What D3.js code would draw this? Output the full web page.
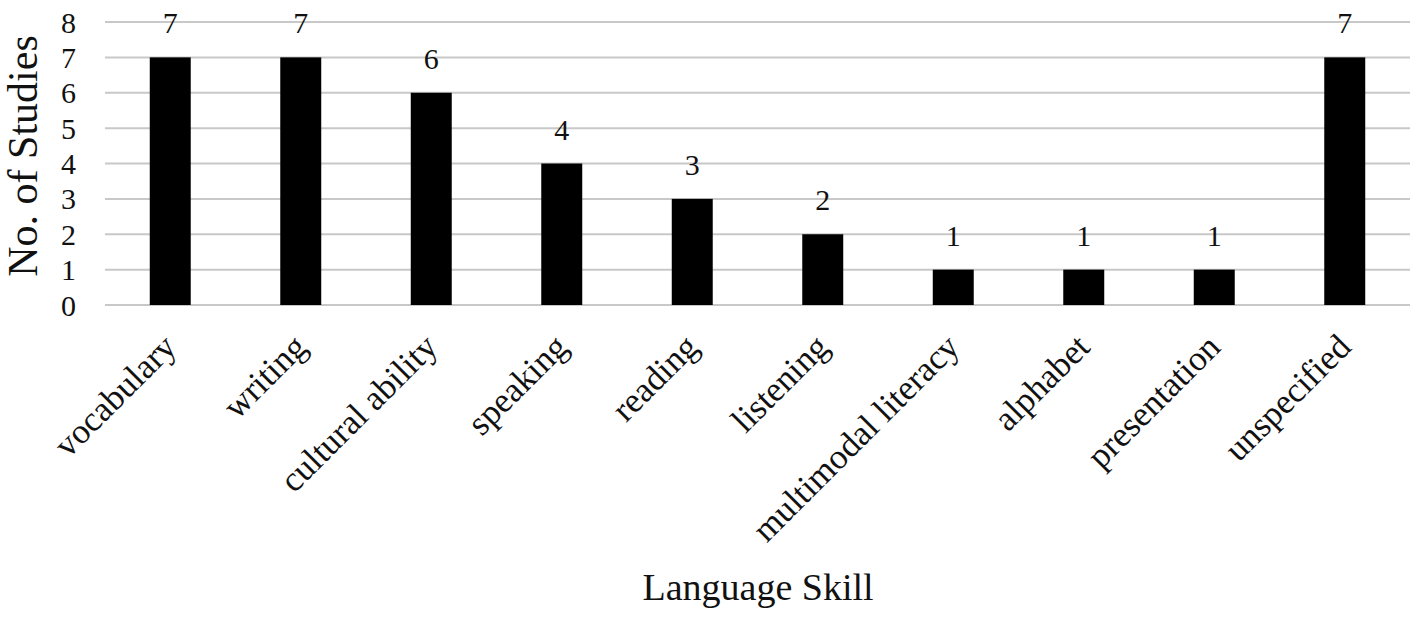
<!DOCTYPE html>
<html>
<head>
<meta charset="utf-8">
<script src="https://cdn.jsdelivr.net/npm/d3@7"></script>
<style>
  body { margin: 0; background: #fff; }
</style>
</head>
<body>
<div id="canvas"></div>
<script>
var categories = ["vocabulary", "writing", "cultural ability", "speaking", "reading",
                  "listening", "multimodal literacy", "alphabet", "presentation", "unspecified"];
var values = [7, 7, 6, 4, 3, 2, 1, 1, 1, 7];
var yTicks = [0, 1, 2, 3, 4, 5, 6, 7, 8];

var width = 1418, height = 618,
    margin = {top: 22, right: 8, bottom: 313, left: 105};
var serif = "'Liberation Serif', 'Times New Roman', serif";

var svg = d3.select("#canvas").append("svg")
    .attr("width", width)
    .attr("height", height)
    .attr("font-family", serif);

var x = d3.scaleBand()
    .domain(categories)
    .range([margin.left, width - margin.right])
    .paddingInner(0.686)
    .paddingOuter(0.343);

var y = d3.scaleLinear()
    .domain([0, 8])
    .range([height - margin.bottom, margin.top]);

// gridlines
svg.append("g")
    .selectAll("line")
    .data(yTicks)
  .enter().append("line")
    .attr("x1", margin.left)
    .attr("x2", width - margin.right)
    .attr("y1", function(d) { return y(d); })
    .attr("y2", function(d) { return y(d); })
    .attr("stroke", "#c8c8c8")
    .attr("stroke-width", 2);

// y tick labels
svg.append("g")
    .selectAll("text")
    .data(yTicks)
  .enter().append("text")
    .attr("x", 76)
    .attr("y", function(d) { return y(d); })
    .attr("dy", "0.35em")
    .attr("font-family", serif)
    .attr("font-size", 30)
    .attr("fill", "#111")
    .style("text-anchor", "end")
    .text(function(d) { return d; });

// bars
svg.append("g")
    .selectAll("rect")
    .data(values)
  .enter().append("rect")
    .attr("x", function(d, i) { return x(categories[i]); })
    .attr("y", function(d) { return y(d); })
    .attr("width", x.bandwidth())
    .attr("height", function(d) { return y(0) - y(d); })
    .attr("fill", "#000");

// value labels
svg.append("g")
    .selectAll("text")
    .data(values)
  .enter().append("text")
    .attr("x", function(d, i) { return x(categories[i]) + x.bandwidth() / 2; })
    .attr("y", function(d) { return y(d) - 24; })
    .attr("font-family", serif)
    .attr("font-size", 30)
    .attr("fill", "#111")
    .style("text-anchor", "middle")
    .text(function(d) { return d; });

// category labels, rotated
svg.append("g")
    .selectAll("text")
    .data(categories)
  .enter().append("text")
    .attr("transform", function(d) {
      return "translate(" + (x(d) + x.bandwidth() / 2 + 8) + "," + (y(0) + 44) + ") rotate(-45)";
    })
    .attr("font-family", serif)
    .attr("font-size", 35)
    .attr("fill", "#111")
    .style("text-anchor", "end")
    .text(function(d) { return d; });

// axis titles
svg.append("text")
    .attr("transform", "translate(37,156) rotate(-90)")
    .attr("font-family", serif)
    .attr("font-size", 42)
    .attr("fill", "#111")
    .style("text-anchor", "middle")
    .text("No. of Studies");

svg.append("text")
    .attr("x", 758)
    .attr("y", 600)
    .attr("font-family", serif)
    .attr("font-size", 38)
    .attr("fill", "#111")
    .style("text-anchor", "middle")
    .text("Language Skill");
</script>
</body>
</html>
